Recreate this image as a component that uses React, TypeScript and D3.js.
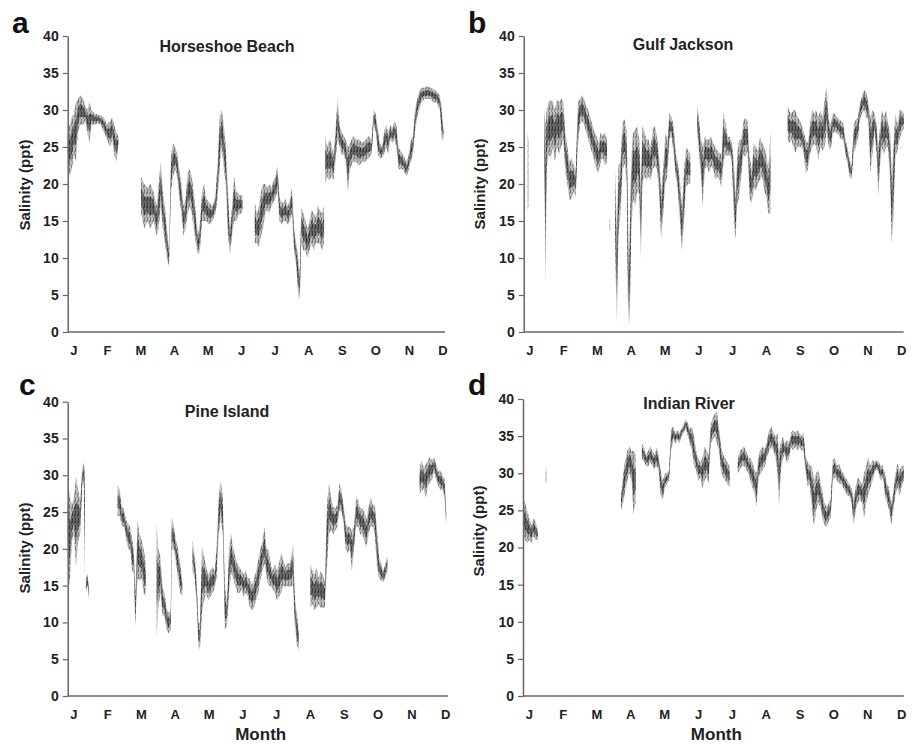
import * as d3 from 'd3';
import React, { useRef, useEffect } from 'react';

// [day of year, low salinity, high salinity]
type Row = [number, number, number];

const months = ['J', 'F', 'M', 'A', 'M', 'J', 'J', 'A', 'S', 'O', 'N', 'D'];
const yTicks = [0, 5, 10, 15, 20, 25, 30, 35, 40];

// ---- a: Horseshoe Beach
const hbWinter: Row[] = [
  [0, 23, 28], [2, 21, 28], [4, 22, 29], [6, 24, 29.5], [8, 23, 31], [10, 27, 31.5], [12, 28, 32],
  [15, 28, 31.5], [17, 28.5, 30.5], [19, 27, 30], [21, 25.5, 31], [23, 28, 30], [26, 28, 29.5],
  [29, 28.2, 29.4], [32, 28, 29.2], [35, 27, 29], [38, 26, 28], [41, 25, 28.5], [43, 26, 29],
  [45, 24, 28], [47, 23, 27], [49, 25, 26.5],
];
const hbSpring: Row[] = [
  [71, 16, 21], [74, 14, 20], [77, 15, 19.5], [80, 14, 20], [83, 15, 19], [86, 13, 17], [88, 14, 20],
  [90, 17, 23], [92, 14, 19], [94, 12, 17], [96, 10, 14], [98, 8.8, 11], [100, 19, 24], [102, 21, 25.5],
  [104, 22, 25], [106, 21, 24], [108, 18, 22], [110, 16, 20], [112, 13, 17], [114, 14, 18], [116, 16, 21.5],
  [118, 17, 22], [120, 16, 21], [122, 14, 19], [124, 12, 16], [126, 10.5, 13], [128, 11, 15], [130, 15, 19],
  [132, 15, 20], [134, 15, 18], [137, 14.5, 17.5], [140, 15, 17], [143, 16, 18.5], [145, 18, 23],
  [147, 22, 29], [149, 25, 30], [151, 22, 28], [153, 20, 25], [155, 13, 19], [157, 10.5, 14], [159, 13, 17],
  [161, 15, 21], [163, 15, 19], [166, 16, 18.5], [169, 16, 18.5],
];
const hbSummer: Row[] = [
  [181, 12, 17.5], [183, 12, 16], [185, 11.5, 17], [187, 13, 19], [189, 14, 20], [191, 16, 20],
  [193, 16.5, 19.5], [195, 16, 20], [197, 17, 19.5], [199, 17.5, 20.5], [201, 18, 21], [203, 19, 22.5],
  [205, 15, 18], [207, 14.5, 17.5], [209, 15, 17.5], [211, 15, 18], [213, 14.5, 17], [215, 15, 18],
  [217, 16, 19.5], [219, 11, 14], [221, 9, 12], [223, 5, 10], [224.5, 4.5, 8], [226, 12, 17], [228, 11, 16],
  [230, 11, 15], [232, 10, 14], [234, 11, 15], [236, 12, 16.5], [238, 11, 16], [240, 12, 15.5],
  [242, 12, 17], [244, 12, 16.5], [246, 11, 16], [248, 12, 17],
];
const hbFall: Row[] = [
  [249, 20, 26.5], [251, 21, 25], [253, 20.5, 26], [255, 21, 25.5], [257, 20.5, 24], [259, 23, 27],
  [261, 26, 31.6], [263, 25, 28], [265, 24, 27], [267, 24, 26.5], [269, 23, 26], [271, 19, 25],
  [273, 22, 25.5], [276, 23, 26.5], [279, 23, 26], [282, 22.5, 26], [285, 23, 25.5], [288, 23, 26],
  [291, 23.5, 26.5], [294, 24, 26], [296, 28, 30], [298, 27, 29.5], [300, 24, 27.5], [302, 23.5, 25.5],
  [304, 23.5, 25], [306, 24, 27], [308, 25, 28], [310, 24, 27], [312, 26, 28], [314, 25.5, 27.5],
  [316, 26, 28.5], [318, 25, 28], [320, 22, 25], [322, 22, 24.5], [324, 22, 24], [326, 21.5, 23.5],
  [328, 21, 23], [330, 22, 24], [332, 23, 26], [334, 24, 26.5], [336, 27, 30], [338, 29, 31.5],
  [340, 30, 32.5], [342, 31, 33], [345, 31.5, 33], [348, 31.5, 33.2], [351, 31.5, 33], [354, 31, 32.8],
  [357, 31, 32.5], [360, 30, 32], [362, 26, 30], [363.5, 26, 27.5],
];

// ---- b: Gulf Jackson
const gjJanFaint: Row[] = [[3, 16.5, 27], [5, 17, 26]];
const gjWinter: Row[] = [
  [19.5, 24, 30], [21, 6.5, 28], [22, 22, 30], [24, 24, 31], [26, 23.5, 31.4], [28, 25, 31], [30, 23, 30],
  [32, 25, 31.5], [34, 24, 31], [36, 25, 31.6], [38, 26, 31], [40, 21.5, 27], [42, 20, 25], [44, 17.8, 23],
  [46, 18, 23.5], [48, 19, 22.5], [50, 18.3, 22], [52, 25, 31], [54, 28, 31.5], [56, 28.5, 32],
  [58, 28, 31.5], [60, 27, 30.5], [62, 26, 30], [64, 25, 29], [66, 24, 28], [68, 23, 27], [70, 22, 26.5],
  [72, 21.5, 25.5], [74, 23, 27], [76, 23.5, 26.5], [78, 22.5, 27], [80, 23, 26],
];
const gjMarFaint: Row[] = [[82, 13.8, 15.4], [83.5, 13.5, 15]];
const gjSpring: Row[] = [
  [88, 10, 22], [89.5, 1.2, 14], [91, 13, 22.5], [93, 16, 23], [95, 22, 28.5], [97, 22.8, 28.7],
  [99, 20, 27], [100, 5, 18], [101, 0.8, 10], [102, 3, 15], [103.5, 14, 24], [105, 18, 27],
  [107, 17, 27.3], [109, 19, 27.8], [111, 18.8, 26], [112.5, 9.8, 20], [114, 20, 27.8], [116, 21, 27],
  [118, 20.6, 26], [120, 21, 26], [122, 20.6, 25], [124, 22, 27.5], [126, 22.4, 27.8], [128, 22, 26.5],
  [130, 19, 24], [132, 12.5, 19], [134, 16, 22], [136, 20, 26.9], [138, 21, 26], [140, 26, 29.6],
  [142, 26.5, 29], [144, 24, 28], [146, 21, 24.2], [148, 19.2, 23], [150, 15, 20.6], [152, 11, 17],
  [154, 15, 22], [156, 19.7, 25], [158, 20, 24.5], [160, 20, 24],
];
const gjSummer: Row[] = [
  [166.5, 26.9, 30.5], [168, 25, 29.5], [170, 21.5, 26.4], [172, 17, 25], [174, 22, 26.4], [176, 22.4, 26],
  [178, 21.5, 26], [180, 22.4, 26.4], [182, 22, 25.5], [184, 20.6, 25], [186, 21, 24.5], [188, 20.6, 24.2],
  [190, 19.5, 24], [192, 23, 29.6], [194, 24, 28], [196, 23.7, 26.4], [198, 24, 26.4], [200, 22.8, 25.5],
  [202, 15, 22.8], [203.5, 12.5, 18], [205, 17, 24], [207, 18.3, 26], [209, 21, 26], [211, 24, 28.5],
  [213, 23.7, 29], [215, 24.5, 28.5], [217, 18, 23.7], [219, 17.4, 22], [221, 19.5, 25.5], [223, 19.2, 25],
  [225, 20, 24.5], [227, 20.6, 26.4], [229, 21, 25.5], [231, 19, 25], [233, 18.3, 24], [235, 16, 22],
  [237, 16, 27.3],
];
const gjFall: Row[] = [
  [253.5, 26, 30.5], [255, 25.5, 30], [257, 26, 29.5], [259, 25, 30], [261, 24.2, 30], [263, 25, 29],
  [265, 25, 28.7], [267, 25, 28], [269, 24, 27], [271, 21.5, 26], [273, 22, 25.5], [275, 24, 28],
  [277, 25, 30], [279, 25.5, 29.5], [281, 25, 30], [283, 23.3, 29], [285, 25, 30], [287, 24.5, 29],
  [289, 25, 31.4], [291, 27, 33.2], [293, 25, 28.7], [295, 24.6, 28], [297, 26.9, 29.6], [299, 27, 29.5],
  [301, 26.9, 29], [303, 26.5, 28.7], [305, 26, 28.5], [307, 26, 28.2], [309, 24, 26], [311, 22.8, 25],
  [313, 21, 23.3], [315, 20.6, 22.5], [317, 24.2, 28], [319, 25, 28.7], [321, 26, 29], [323, 28.7, 31],
  [325, 29.5, 32], [327, 30, 32.7], [329, 29, 32.5], [331, 28.7, 31], [333, 21.5, 29], [335, 24, 30],
  [337, 26.9, 29.6], [339, 24, 28], [340.5, 18.3, 25], [342, 22, 27.3], [344, 25, 30], [346, 24, 29],
  [348, 25, 30], [350, 25, 28.2], [352, 20, 27], [353.5, 12, 21], [355, 15, 25], [357, 23.7, 29.6],
  [359, 24.5, 28], [361, 26, 30], [363, 27, 30], [365, 27.5, 29.5],
];

// ---- c: Pine Island
const piJan: Row[] = [
  [0, 18, 29.8], [2, 15, 27], [4, 21, 26], [6, 22, 27], [8, 17.5, 29.8], [10, 21, 28], [12, 22, 26.6],
  [14, 28.5, 31], [15.5, 29, 31.8], [16.5, 16, 30],
];
const piJanLow: Row[] = [[17.5, 14, 16], [19, 15, 16.5], [20.5, 13, 15]];
const piMar: Row[] = [
  [48, 24.3, 28.6], [50, 24.5, 28], [52, 23, 25.7], [54, 23, 25.5], [56, 21.5, 24], [58, 20, 23.4],
  [60, 19.8, 23], [62, 17, 21.2], [63.5, 16.7, 20], [65, 9.4, 13.5], [67, 16, 23.9], [69, 15.7, 22],
  [71, 16, 21.2], [73, 14, 20], [75, 13.5, 18],
];
const piApr: Row[] = [
  [85.5, 8, 23.4], [87, 12, 20], [89, 14, 19], [91, 11, 14.8], [93, 10.8, 14], [95, 9, 12], [97, 8.5, 11.2],
  [99, 9, 12], [100, 19.8, 24.3], [102, 20, 23], [104, 18, 21.2], [106, 16, 20], [108, 14, 18], [110, 13.5, 16],
];
const piSummer: Row[] = [
  [120, 17, 21.2], [122, 16, 19], [124, 12, 15.7], [125.5, 7, 10], [127, 6.2, 10], [129, 11.2, 20.3],
  [131, 13, 19], [133, 14, 17.6], [135, 13, 16.5], [137, 13.5, 17], [139, 14, 17.6], [141, 14.5, 17],
  [143, 16, 20], [145, 22, 27], [147, 24, 29.3], [149, 22, 27], [151, 9, 14.8], [153, 9.5, 13], [155, 14, 20],
  [157, 16.7, 22], [159, 16, 20], [161, 15, 19], [163, 14, 18], [165, 14, 17.5], [167, 14.5, 17],
  [169, 13.5, 16.5], [171, 14, 17], [173, 13.5, 16], [175, 12, 16], [177, 11.7, 15], [179, 12, 16],
  [181, 13, 17], [183, 14, 18.5], [185, 15.7, 20], [187, 17, 21], [189, 18, 23], [191, 16, 20],
  [193, 15, 19.8], [195, 15, 18], [197, 14.5, 17], [199, 14, 18], [201, 13, 17], [203, 13.5, 18],
  [205, 14, 19.4], [207, 15, 18.5], [209, 14.8, 17.5], [211, 15, 18], [213, 14.8, 18], [215, 15, 19],
  [216.5, 15, 20.7], [218, 10, 14], [220, 7, 11.2], [222, 6.2, 9],
];
const piFall: Row[] = [
  [233, 12, 18], [235, 12.5, 17], [237, 11.7, 16.5], [239, 12, 17.5], [241, 12.5, 16], [243, 12, 17],
  [245, 12, 16.5], [247, 12, 15.5], [249, 17.6, 26], [251, 22, 29], [253, 22.5, 27], [255, 22, 25.7],
  [257, 22.5, 25.5], [259, 23, 26], [261, 25.2, 28.9], [263, 25, 28], [265, 23.4, 26], [267, 20, 23.4],
  [269, 19.4, 23], [271, 20, 23], [273, 17, 22.5], [275, 20, 23], [277, 23, 27], [279, 23, 26.5],
  [281, 22, 25.5], [283, 22, 25.5], [285, 21, 25], [287, 20.3, 24], [289, 22, 25.7], [291, 23, 27],
  [293, 23, 26], [295, 22, 26], [297, 17.6, 23], [299, 16, 19], [301, 15.7, 18], [303, 15.5, 17],
  [305, 16, 18], [307, 17, 19],
];
const piDec: Row[] = [
  [338, 27.5, 31], [340, 28, 32], [342, 28, 31], [344, 27, 31.5], [346, 28.5, 32], [348, 29, 32.5],
  [350, 29.5, 32], [352, 30.5, 32.5], [354, 29.3, 31.5], [356, 28.5, 30.5], [358, 28, 30.7], [360, 28, 30],
  [362, 27, 29.5], [363.5, 23, 25.7],
];

// ---- d: Indian River
const irJan: Row[] = [
  [0, 22, 26.6], [2, 21, 26], [4, 20.6, 25], [6, 21, 24], [8, 20.6, 23], [10, 21.5, 24], [12, 21, 23.5],
  [14, 21, 22.5],
];
const irJanFaint: Row[] = [[21, 28.6, 31], [23, 29, 30]];
const irApr: Row[] = [
  [94, 25, 27], [96, 26, 30], [98, 27.5, 31.8], [100, 29, 33], [102, 30, 33.6], [104, 29, 33],
  [106, 24.5, 33], [108, 26, 32.5],
];
const irSummer: Row[] = [
  [114, 32, 34], [116, 31.5, 33.5], [118, 31, 32.5], [120, 30.9, 33], [122, 31.5, 33.6], [124, 31, 33],
  [126, 30.5, 32.5], [128, 31, 33.5], [130, 30.4, 32.5], [132, 27, 30.4], [134, 26.4, 29], [136, 28, 30],
  [138, 28.6, 30], [140, 29, 30.4], [142, 33, 36], [144, 34.5, 36.3], [146, 34, 35.5], [148, 34.5, 35.8],
  [150, 34, 35.5], [152, 35, 36], [154, 35.5, 36.5], [156, 36, 37.3], [158, 35, 36.8], [160, 34, 36],
  [162, 33, 36.3], [164, 31, 35], [166, 30.4, 33], [168, 29, 32], [170, 29.5, 31.5], [172, 28, 32],
  [174, 29, 33.6], [176, 29.5, 33], [178, 28.6, 32.5], [180, 34, 36.5], [182, 34.5, 37.5], [184, 35, 38],
  [186, 34, 38.3], [188, 33, 36], [190, 30, 33.6], [192, 29.5, 32.5], [194, 29, 32], [196, 28.5, 31.5],
  [198, 28.2, 31],
];
const irFall: Row[] = [
  [206, 30, 32], [208, 30.5, 33], [210, 31, 33.3], [212, 31, 33.6], [214, 30.5, 33], [216, 30, 32.2],
  [218, 29, 32], [220, 28, 31.5], [222, 27.3, 30.5], [224, 25.5, 30], [226, 29.5, 32.5], [228, 30, 33.3],
  [230, 30.5, 33.6], [232, 31, 33.3], [234, 32.2, 34.5], [236, 33, 35.8], [238, 33.5, 36.3], [240, 33, 35.5],
  [242, 32.2, 35], [244, 30, 35.4], [245.5, 25.5, 33], [247, 30, 34], [249, 32, 35], [251, 32.5, 34],
  [253, 31.3, 34.5], [255, 32, 34], [257, 33.5, 35.5], [259, 33.1, 35.8], [261, 33.5, 35.5], [263, 33, 35.8],
  [265, 33.5, 35.5], [267, 33.1, 35], [269, 33, 35.5], [271, 30, 32.2], [273, 28.2, 31.5], [275, 28.5, 31],
  [277, 25, 30.9], [279, 22.8, 29], [281, 25, 30], [283, 26, 30.4], [285, 25.5, 29], [287, 24, 27.5],
  [289, 23, 26], [291, 22.8, 25.5], [293, 23.5, 26], [295, 24, 26.5], [297, 29, 31.8], [299, 29.5, 32],
  [301, 29, 31], [303, 28.6, 31.3], [305, 28.6, 30.5], [307, 28, 30], [309, 27.5, 29.5], [311, 27, 29],
  [313, 26.9, 28.5], [315, 26, 28], [317, 23, 26.5], [319, 25, 28.2], [321, 26, 29.5], [323, 26.5, 29],
  [325, 26, 28.5], [327, 24, 30], [329, 26, 31], [331, 27, 32.2], [333, 28, 31], [335, 29, 31.8],
  [337, 30, 31.5], [339, 30.5, 31.8], [341, 30, 31.5], [343, 29, 31], [345, 29.5, 31], [347, 27, 30],
  [349, 26, 28.6], [351, 25, 28], [353, 23, 26], [355, 25, 27.5], [357, 27, 30], [359, 28, 31.3],
  [361, 27, 30.5], [363, 28, 31], [365, 29, 31],
];

const panels = [
  {
    letter: 'a', title: 'Horseshoe Beach', segments: [hbWinter, hbSpring, hbSummer, hbFall], faint: [] as Row[][],
    left: 67.7, right: 445, top: 36, bottom: 332, titleX: 227, titleY: 52, letterX: 12, letterY: 33,
    ylabelX: 30, ylabelY: 185, monthTitle: false,
  },
  {
    letter: 'b', title: 'Gulf Jackson', segments: [gjWinter, gjSpring, gjSummer, gjFall], faint: [gjJanFaint, gjMarFaint],
    left: 523.7, right: 903.7, top: 36, bottom: 332, titleX: 683, titleY: 50, letterX: 468, letterY: 33,
    ylabelX: 485, ylabelY: 184, monthTitle: false,
  },
  {
    letter: 'c', title: 'Pine Island', segments: [piJan, piJanLow, piMar, piApr, piSummer, piFall, piDec], faint: [] as Row[][],
    left: 67.7, right: 447.7, top: 401.7, bottom: 696, titleX: 227, titleY: 416.5, letterX: 19, letterY: 395,
    ylabelX: 30, ylabelY: 548, monthTitle: true,
  },
  {
    letter: 'd', title: 'Indian River', segments: [irJan, irApr, irSummer, irFall], faint: [irJanFaint],
    left: 523, right: 903.7, top: 399, bottom: 696, titleX: 689, titleY: 409, letterX: 468, letterY: 395,
    ylabelX: 484, ylabelY: 531, monthTitle: true,
  },
];

const FONT = '"Liberation Sans", Arial, sans-serif';

const SalinityPanels = ({ width, height }: { width: number; height: number }) => {
  const ref = useRef<SVGSVGElement>(null);

  useEffect(() => {
    const svg = d3.select(ref.current);
    svg.selectAll('*').remove();

    // vertical striation, like the dense logger record in the print
    const defs = svg.append('defs');
    const hatch = (id: string, bg: string, fg: string) => {
      const pat = defs.append('pattern')
        .attr('id', id).attr('patternUnits', 'userSpaceOnUse')
        .attr('width', 3).attr('height', 7);
      pat.append('rect').attr('width', 3).attr('height', 7).attr('fill', bg);
      pat.append('rect').attr('x', 0).attr('y', 0).attr('width', 1).attr('height', 5).attr('fill', fg);
      pat.append('rect').attr('x', 2).attr('y', 3).attr('width', 0.6).attr('height', 4).attr('fill', fg);
    };
    hatch('hatchOuter', '#bdbdbd', '#7c7c7c');
    hatch('hatchInner', '#6a6a6a', '#3a3a3a');
    hatch('hatchFaint', '#e6e6e6', '#c8c8c8');

    panels.forEach((p) => {
      const x = d3.scaleLinear().domain([0, 365]).range([p.left, p.right]);
      const y = d3.scaleLinear().domain([0, 40]).range([p.bottom, p.top]);
      const g = svg.append('g');

      const outer = d3.area<Row>()
        .x((d) => x(d[0]))
        .y0((d) => y(d[1]))
        .y1((d) => y(d[2]));
      const inner = d3.area<Row>()
        .x((d) => x(d[0]))
        .y0((d) => y(d[1] + (d[2] - d[1]) * 0.28))
        .y1((d) => y(d[2] - (d[2] - d[1]) * 0.28));

      p.faint.forEach((seg) => {
        g.append('path').attr('d', outer(seg)).attr('fill', 'url(#hatchFaint)');
      });
      p.segments.forEach((seg) => {
        g.append('path').attr('d', outer(seg)).attr('fill', 'url(#hatchOuter)');
        g.append('path').attr('d', inner(seg)).attr('fill', 'url(#hatchInner)');
      });

      // y axis
      const yAxis = d3.axisLeft(y).tickValues(yTicks).tickSize(5).tickSizeOuter(0).tickPadding(4);
      const ya = g.append('g').attr('transform', `translate(${p.left},0)`).call(yAxis);
      ya.select('.domain').attr('stroke', '#666').attr('stroke-width', 1.5);
      ya.selectAll('.tick line').attr('stroke', '#666').attr('stroke-width', 1.2);
      ya.selectAll('.tick text')
        .attr('font-family', FONT).attr('font-weight', 'bold').attr('font-size', 14).attr('fill', '#222');

      // x axis line
      g.append('line')
        .attr('x1', p.left).attr('x2', p.right)
        .attr('y1', p.bottom).attr('y2', p.bottom)
        .attr('stroke', '#666').attr('stroke-width', 1.5);

      const mx = d3.scalePoint<number>().domain(d3.range(12)).range([x(6), x(363)]);
      g.selectAll('text.month').data(months).enter().append('text')
        .attr('class', 'month')
        .attr('x', (d, i) => mx(i) as number)
        .attr('y', p.bottom + 23)
        .attr('text-anchor', 'middle')
        .attr('font-family', FONT).attr('font-weight', 'bold').attr('font-size', 13).attr('fill', '#222')
        .text((d) => d);

      g.append('text')
        .attr('x', p.titleX).attr('y', p.titleY)
        .attr('text-anchor', 'middle')
        .attr('font-family', FONT).attr('font-weight', 'bold').attr('font-size', 16).attr('fill', '#222')
        .text(p.title);

      g.append('text')
        .attr('x', p.letterX).attr('y', p.letterY)
        .attr('font-family', FONT).attr('font-weight', 'bold').attr('font-size', 30).attr('fill', '#111')
        .text(p.letter);

      g.append('text')
        .attr('transform', `translate(${p.ylabelX},${p.ylabelY}) rotate(-90)`)
        .attr('text-anchor', 'middle')
        .attr('font-family', FONT).attr('font-weight', 'bold').attr('font-size', 15).attr('fill', '#222')
        .text('Salinity (ppt)');

      if (p.monthTitle) {
        g.append('text')
          .attr('x', (p.left + p.right) / 2 + 3).attr('y', 740)
          .attr('text-anchor', 'middle')
          .attr('font-family', FONT).attr('font-weight', 'bold').attr('font-size', 17).attr('fill', '#222')
          .text('Month');
      }
    });
  }, []);

  return <svg ref={ref} width={width} height={height} style={{ display: 'block', background: '#fff' }} />;
};

export default function App() {
  return (
    <div style={{ position: 'absolute', left: 0, top: 0 }}>
      <SalinityPanels width={917} height={744} />
    </div>
  );
}
